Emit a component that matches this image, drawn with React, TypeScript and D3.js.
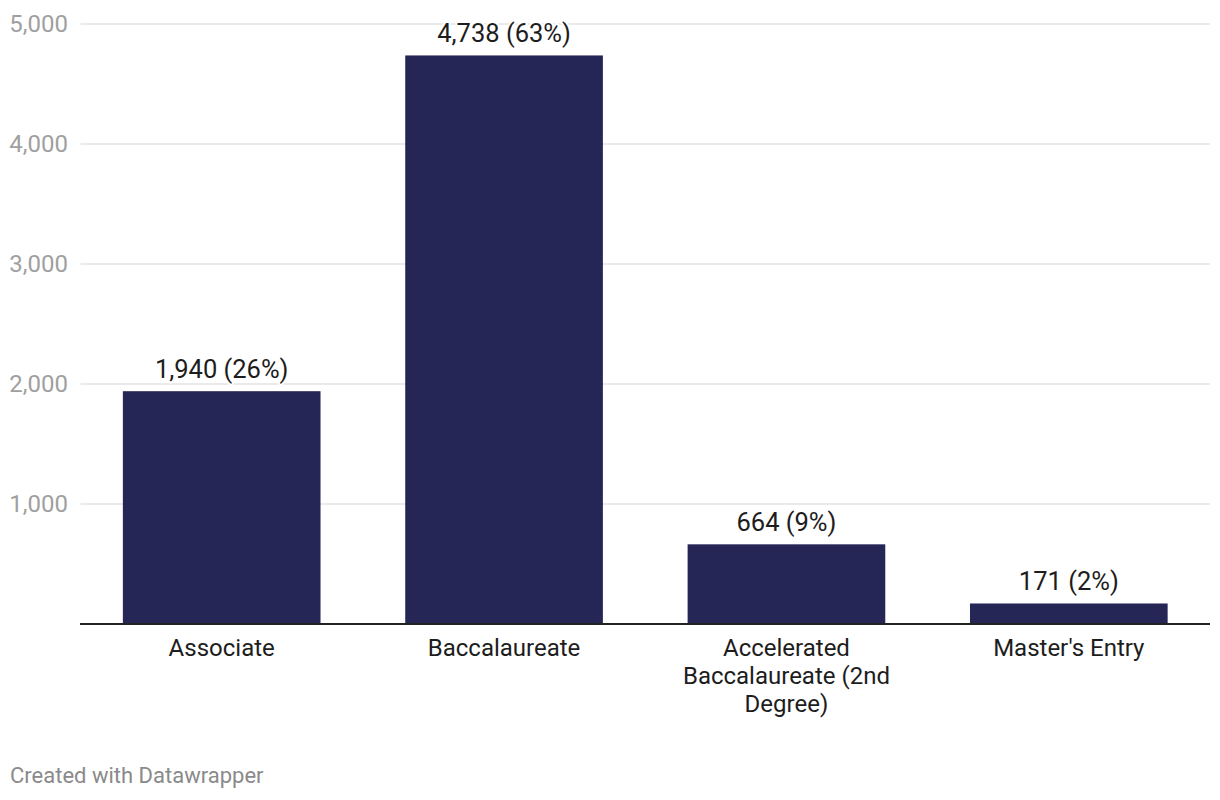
import React, { useEffect, useRef } from "react";
import * as d3 from "d3";

const categories = [
  ["Associate"],
  ["Baccalaureate"],
  ["Accelerated", "Baccalaureate (2nd", "Degree)"],
  ["Master's Entry"],
];
const values = [1940, 4738, 664, 171];
const shares = [26, 63, 9, 2];
const yTicks = [1000, 2000, 3000, 4000, 5000];

const App = () => {
  const ref = useRef<SVGSVGElement>(null);

  useEffect(() => {
    if (!ref.current) return;
    const width = 1220;
    const height = 800;
    const left = 80.5;
    const right = 1210;
    const top = 24;
    const bottom = 624;

    const svg = d3.select(ref.current);
    svg.selectAll("*").remove();
    svg.attr("viewBox", `0 0 ${width} ${height}`).style("font-family", "Roboto, sans-serif");

    const x = d3
      .scaleBand<number>()
      .domain(d3.range(values.length))
      .range([left, right])
      .paddingInner(0.3)
      .paddingOuter(0.15);
    const y = d3.scaleLinear().domain([0, 5000]).range([bottom, top]);

    // grid + tick labels
    const grid = svg.append("g");
    grid
      .selectAll("line")
      .data(yTicks)
      .join("line")
      .attr("x1", left)
      .attr("x2", right)
      .attr("y1", (d) => y(d))
      .attr("y2", (d) => y(d))
      .attr("stroke", "#e3e3e3")
      .attr("stroke-width", 1.5);
    grid
      .selectAll("text")
      .data(yTicks)
      .join("text")
      .attr("x", 68)
      .attr("y", (d) => y(d))
      .attr("dy", "0.35em")
      .attr("text-anchor", "end")
      .attr("fill", "#a0a0a0")
      .style("font-size", "24px")
      .text((d) => d3.format(",")(d));

    // bars
    svg
      .append("g")
      .selectAll("rect")
      .data(values)
      .join("rect")
      .attr("x", (_, i) => x(i)!)
      .attr("width", x.bandwidth())
      .attr("y", (d) => y(d))
      .attr("height", (d) => y(0) - y(d))
      .attr("fill", "#262656");

    // value labels (white halo breaks the gridlines)
    svg
      .append("g")
      .selectAll("text")
      .data(values)
      .join("text")
      .attr("x", (_, i) => x(i)! + x.bandwidth() / 2)
      .attr("y", (d) => y(d) - 13)
      .attr("text-anchor", "middle")
      .attr("fill", "#1d1d1d")
      .attr("stroke", "#fff")
      .attr("stroke-width", 4)
      .attr("paint-order", "stroke")
      .style("font-size", "25.5px")
      .text((d, i) => `${d3.format(",")(d)} (${shares[i]}%)`);

    // baseline
    svg
      .append("line")
      .attr("x1", left - 0.5)
      .attr("x2", right)
      .attr("y1", bottom)
      .attr("y2", bottom)
      .attr("stroke", "#222")
      .attr("stroke-width", 2);

    // category labels
    const cat = svg
      .append("g")
      .selectAll("text")
      .data(categories)
      .join("text")
      .attr("text-anchor", "middle")
      .attr("fill", "#1d1d1d")
      .style("font-size", "24px");
    cat
      .selectAll("tspan")
      .data((d, i) => d.map((line) => ({ line, i })))
      .join("tspan")
      .attr("x", (d) => x(d.i)! + x.bandwidth() / 2)
      .attr("y", (_, j) => 656 + j * 28)
      .text((d) => d.line);

    // footer
    svg
      .append("text")
      .attr("x", 10)
      .attr("y", 783)
      .attr("fill", "#8a8a8a")
      .style("font-size", "22px")
      .text("Created with Datawrapper");
  }, []);

  return (
    <div style={{ position: "absolute", left: 0, top: 0, width: 1220, height: 800, background: "#fff" }}>
      <svg ref={ref} width={1220} height={800} style={{ display: "block" }} />
    </div>
  );
};

export default App;
